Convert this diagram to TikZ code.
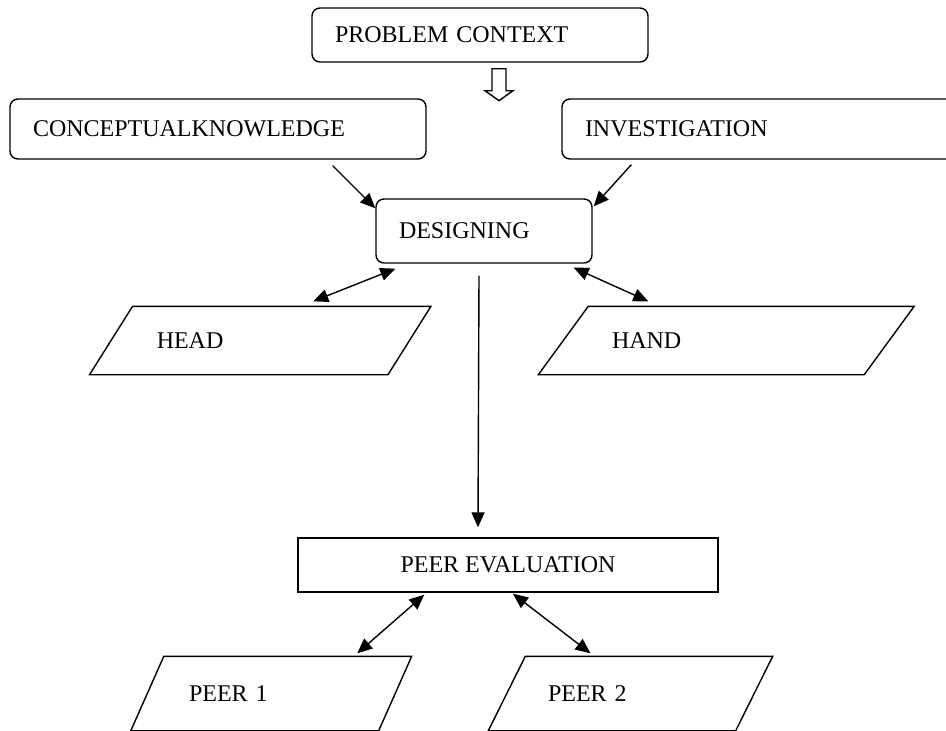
\documentclass[tikz,border=0pt]{standalone}
\usepackage{fontspec}
\setmainfont{Liberation Serif}
\usetikzlibrary{arrows.meta,calc}
\begin{document}
\begin{tikzpicture}[x=1pt,y=-1pt,line width=1.4pt,
  every node/.style={font=\fontsize{24}{28}\selectfont},
  rbox/.style={draw,rounded corners=8pt,align=left,inner xsep=23pt,inner ysep=0pt},
  sbox/.style={draw,align=center,inner ysep=0pt},
  para/.style={align=left,inner ysep=0pt},
  arr/.style={-{Triangle[length=15pt,width=13pt]}},
  darr/.style={{Triangle[length=15pt,width=13pt]}-{Triangle[length=15pt,width=13pt]}}]
\useasboundingbox (0,0) rectangle (946,731);
\clip (0,0) rectangle (946,731);
\node[rbox,text width=290pt,minimum height=54pt] (context) at (480,35) {PROBLEM CONTEXT};
\node[rbox,text width=370pt,minimum height=60pt] (concept) at (218,129) {CONCEPTUALKNOWLEDGE};
\node[rbox,text width=392pt,minimum height=60pt] (invest) at (781,129) {INVESTIGATION};
\node[rbox,text width=170pt,minimum height=64pt] (design) at (484,231) {DESIGNING};
\node[sbox,minimum width=420pt,minimum height=54pt] (peereval) at (508,565) {PEER EVALUATION};
\node[para,inner xsep=45pt,text width=207pt,minimum height=67pt] (head) at (260.25,340.5) {HEAD};
\node[para,inner xsep=48pt,text width=228.5pt,minimum height=67pt] (hand) at (726.25,340.5) {HAND};
\node[para,inner xsep=41pt,text width=164.5pt,minimum height=73pt] (peerone) at (271.25,693.5) {PEER 1};
\node[para,inner xsep=40.5pt,text width=165pt,minimum height=73pt] (peertwo) at (630.5,693.5) {PEER 2};
\draw ([xshift=21.5pt]head.north west) -- ([xshift=21.5pt]head.north east) -- ([xshift=-21.5pt]head.south east) -- ([xshift=-21.5pt]head.south west) -- cycle;
\draw ([xshift=25pt]hand.north west) -- ([xshift=25pt]hand.north east) -- ([xshift=-25pt]hand.south east) -- ([xshift=-25pt]hand.south west) -- cycle;
\draw ([xshift=16.5pt]peerone.north west) -- ([xshift=16.5pt]peerone.north east) -- ([xshift=-16.5pt]peerone.south east) -- ([xshift=-16.5pt]peerone.south west) -- cycle;
\draw ([xshift=18.5pt]peertwo.north west) -- ([xshift=18.5pt]peertwo.north east) -- ([xshift=-18.5pt]peertwo.south east) -- ([xshift=-18.5pt]peertwo.south west) -- cycle;
\coordinate (down) at ($(context.south)+(19,6)$);
\draw (down) ++(-7,0) -- ++(0,22) -- ++(-7,0) -- ++(14,10) -- ++(14,-10) -- ++(-7,0) -- ++(0,-22) -- cycle;
\draw[arr] ($(concept.south east)+(-94,6)$) -- ($(design.north west)+(0,10)$);
\draw[arr] ($(invest.south west)+(70,5)$) -- ($(design.north east)+(1,8)$);
\draw[darr] ($(design.south west)+(20,5)$) -- ($(head.north)+(53,-5)$);
\draw[darr] ($(design.south east)+(-19,4)$) -- ($(hand.north)+(-78,-5)$);
\draw[arr] ($(design.south)+(-5,12)$) -- ($(peereval.north)+(-30,-10)$);
\draw[darr] ($(peereval.south west)+(127,2)$) -- ($(peerone.north)+(86,-3)$);
\draw[darr] ($(peereval.south)+(5,1)$) -- ($(peertwo.north)+(-40,-3)$);
\end{tikzpicture}
\end{document}
